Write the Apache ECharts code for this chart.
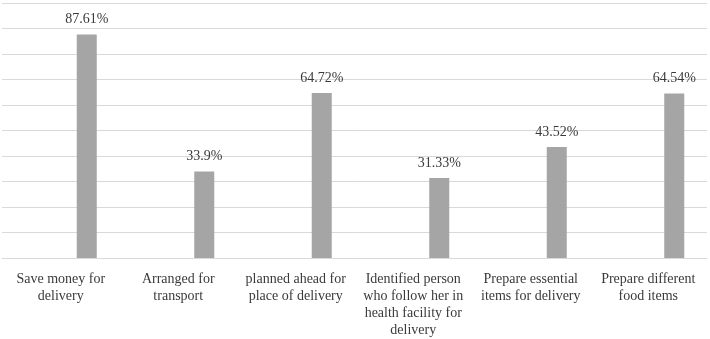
<!DOCTYPE html>
<html>
<head>
<meta charset="utf-8">
<script src="https://cdn.jsdelivr.net/npm/echarts@6/dist/echarts.min.js"></script>
<style>
  html, body { margin: 0; padding: 0; background: #fff; }
  #chart { width: 710px; height: 339px; }
</style>
</head>
<body>
<div id="chart"></div>
<script>
// categories (line breaks as in the picture)
const categories = [
  'Save money for\ndelivery',
  'Arranged for\ntransport',
  'planned ahead for\nplace of delivery',
  'Identified person\nwho follow her in\nhealth facility for\ndelivery',
  'Prepare essential\nitems for delivery',
  'Prepare different\nfood items'
];
// percentages
const values = [87.61, 33.9, 64.72, 31.33, 43.52, 64.54];
// empty companion series (bars sit at the right of each category)
const emptySeries = [null, null, null, null, null, null];

const FONT = '"Liberation Serif", "Times New Roman", serif';

const chart = echarts.init(document.getElementById('chart'));
chart.setOption({
  animation: false,
  grid: { left: 2, right: 3, top: 3, bottom: 79, containLabel: false },
  xAxis: {
    type: 'category',
    data: categories,
    axisLine: { show: true, lineStyle: { color: '#d9d9d9', width: 1 } },
    axisTick: { show: false },
    axisLabel: {
      interval: 0,
      margin: 13,
      fontFamily: FONT,
      fontSize: 14,
      lineHeight: 17,
      color: '#3a3a3a',
      align: 'center'
    }
  },
  yAxis: {
    type: 'value',
    min: 0,
    max: 100,
    interval: 10,
    axisLine: { show: false },
    axisTick: { show: false },
    axisLabel: { show: false },
    splitLine: { lineStyle: { color: '#d9d9d9', width: 1 } }
  },
  series: [
    {
      type: 'bar',
      data: emptySeries,
      barWidth: 20,
      barGap: '160%'
    },
    {
      type: 'bar',
      data: values,
      barWidth: 20,
      barGap: '160%',
      itemStyle: { color: '#a5a5a5' },
      label: {
        show: true,
        position: 'top',
        distance: 8,
        fontFamily: FONT,
        fontSize: 14,
        color: '#3a3a3a',
        formatter: function (p) { return p.value + '%'; }
      }
    }
  ]
});
</script>
</body>
</html>
